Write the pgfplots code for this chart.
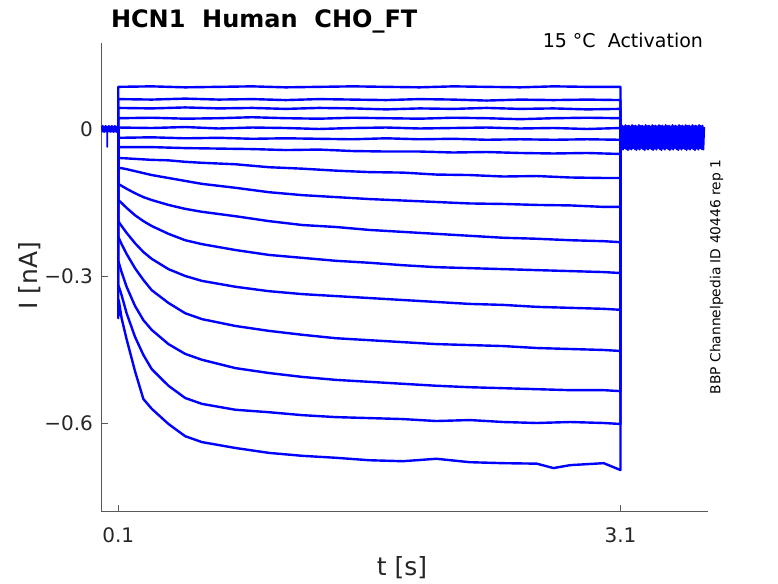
\documentclass[border=0pt]{standalone}
\usepackage{fontspec}
\setmainfont{DejaVu Sans}
\usepackage{pgfplots}
\pgfplotsset{compat=1.18}
\begin{document}
\begin{tikzpicture}
\path[use as bounding box] (-101.5pt,-72pt) rectangle (676.5pt,511pt);
\begin{axis}[
  at={(0pt,0pt)}, anchor=south west,
  scale only axis, width=606pt, height=468pt,
  xmin=0, xmax=3.62, ymin=-0.7796, ymax=0.1755,
  axis x line*=bottom, axis y line*=left,
  xtick={0.1,3.1}, xticklabels={0.1,3.1},
  ytick={-0.6,-0.3,0}, yticklabels={−0.6,−0.3,{0\hspace{22pt}}},
  tick align=inside, major tick length=6pt,
  tick style={black!65, line width=0.6pt},
  axis line style={black!65, line width=0.6pt},
  ticklabel style={font=\fontsize{20}{22}\selectfont, text=black!85},
  xticklabel style={yshift=-13pt},
  yticklabel style={xshift=-5pt},
  clip=false,
  tr/.style={color=blue, line width=2.4pt, line join=round, no markers},
]
% pre-pulse holding current
\addplot[tr, line width=1.2pt] coordinates {(0,0.006)(0.003,-0.006)(0.006,0.007)(0.009,-0.005)(0.012,0.006)(0.015,-0.007)(0.018,0.005)(0.021,-0.006)(0.024,0.007)(0.027,-0.005)(0.030,0.006)(0.032,-0.006)(0.033,-0.037)(0.036,-0.037)(0.037,0.005)(0.040,-0.006)(0.043,0.007)(0.046,-0.005)(0.049,0.006)(0.052,-0.007)(0.055,0.005)(0.058,-0.006)(0.061,0.007)(0.064,-0.005)(0.067,0.006)(0.070,-0.007)(0.073,0.005)(0.076,-0.006)(0.079,0.007)(0.082,-0.005)(0.085,0.006)(0.088,-0.007)(0.091,0.005)(0.094,-0.006)(0.097,0.007)(0.1,0)};
% traces
\addplot[tr] coordinates {(0.1,0)(0.1,0.086)(0.3,0.087)(0.5,0.085)(0.7,0.086)(0.9,0.087)(1.1,0.085)(1.3,0.086)(1.5,0.087)(1.7,0.086)(1.9,0.085)(2.1,0.087)(2.3,0.086)(2.5,0.085)(2.7,0.087)(2.9,0.086)(3.1,0.086)(3.1,-0.015)};
\addplot[tr] coordinates {(0.1,0)(0.1,0.061)(0.3,0.060)(0.5,0.062)(0.7,0.060)(0.9,0.061)(1.1,0.059)(1.3,0.061)(1.5,0.060)(1.7,0.059)(1.9,0.061)(2.1,0.060)(2.3,0.058)(2.5,0.060)(2.7,0.059)(2.9,0.060)(3.1,0.059)(3.1,-0.015)};
\addplot[tr] coordinates {(0.1,0)(0.1,0.043)(0.3,0.042)(0.5,0.044)(0.7,0.042)(0.9,0.043)(1.1,0.041)(1.3,0.043)(1.5,0.042)(1.7,0.040)(1.9,0.042)(2.1,0.041)(2.3,0.043)(2.5,0.041)(2.7,0.042)(2.9,0.040)(3.1,0.041)(3.1,-0.015)};
\addplot[tr] coordinates {(0.1,0)(0.1,0.022)(0.3,0.023)(0.5,0.021)(0.7,0.022)(0.9,0.024)(1.1,0.022)(1.3,0.021)(1.5,0.023)(1.7,0.022)(1.9,0.021)(2.1,0.023)(2.3,0.022)(2.5,0.020)(2.7,0.022)(2.9,0.023)(3.1,0.022)(3.1,-0.015)};
\addplot[tr] coordinates {(0.1,0)(0.1,0.003)(0.3,0.002)(0.5,0.004)(0.7,0.001)(0.9,0.003)(1.1,0.002)(1.3,0.000)(1.5,0.002)(1.7,0.003)(1.9,0.001)(2.1,0.002)(2.3,0.003)(2.5,0.001)(2.7,0.002)(2.9,0.000)(3.1,0.002)(3.1,-0.015)};
\addplot[tr] coordinates {(0.1,0)(0.1,-0.018)(0.3,-0.017)(0.5,-0.019)(0.7,-0.018)(0.9,-0.020)(1.1,-0.019)(1.3,-0.020)(1.5,-0.021)(1.7,-0.019)(1.9,-0.021)(2.1,-0.020)(2.3,-0.022)(2.5,-0.021)(2.7,-0.022)(2.9,-0.021)(3.1,-0.022)(3.1,-0.015)};
\addplot[tr] coordinates {(0.1,0)(0.1,-0.037)(0.3,-0.037)(0.5,-0.039)(0.7,-0.040)(0.9,-0.041)(1.1,-0.043)(1.3,-0.042)(1.5,-0.045)(1.7,-0.046)(1.9,-0.046)(2.1,-0.048)(2.3,-0.047)(2.5,-0.049)(2.7,-0.050)(2.9,-0.049)(3.1,-0.051)(3.1,-0.015)};
\addplot[tr] coordinates {(0.1,0)(0.1,-0.059)(0.2,-0.061)(0.3,-0.063)(0.4,-0.064)(0.5,-0.067)(0.6,-0.069)(0.8,-0.072)(1.0,-0.078)(1.2,-0.081)(1.4,-0.085)(1.6,-0.088)(1.8,-0.089)(2.0,-0.093)(2.2,-0.094)(2.4,-0.097)(2.6,-0.096)(2.8,-0.099)(3.0,-0.100)(3.1,-0.100)(3.1,-0.015)};
\addplot[tr] coordinates {(0.1,0)(0.1,-0.080)(0.12,-0.080)(0.15,-0.082)(0.2,-0.086)(0.25,-0.090)(0.3,-0.094)(0.4,-0.100)(0.5,-0.106)(0.6,-0.112)(0.8,-0.120)(1.0,-0.129)(1.2,-0.135)(1.4,-0.139)(1.6,-0.143)(1.8,-0.146)(2.0,-0.149)(2.2,-0.152)(2.4,-0.153)(2.6,-0.155)(2.8,-0.156)(3.0,-0.159)(3.1,-0.159)(3.1,-0.015)};
\addplot[tr] coordinates {(0.1,0)(0.1,-0.112)(0.12,-0.116)(0.15,-0.122)(0.2,-0.131)(0.25,-0.139)(0.3,-0.145)(0.4,-0.155)(0.5,-0.163)(0.6,-0.169)(0.8,-0.178)(1.0,-0.188)(1.2,-0.196)(1.4,-0.200)(1.6,-0.206)(1.8,-0.210)(2.0,-0.214)(2.2,-0.218)(2.4,-0.222)(2.6,-0.224)(2.8,-0.227)(3.0,-0.229)(3.1,-0.231)(3.1,-0.015)};
\addplot[tr] coordinates {(0.1,0)(0.1,-0.145)(0.12,-0.151)(0.15,-0.161)(0.2,-0.176)(0.25,-0.188)(0.3,-0.198)(0.4,-0.214)(0.5,-0.227)(0.6,-0.235)(0.8,-0.247)(1.0,-0.257)(1.2,-0.263)(1.4,-0.269)(1.6,-0.273)(1.8,-0.278)(2.0,-0.282)(2.2,-0.284)(2.4,-0.286)(2.6,-0.288)(2.8,-0.290)(3.0,-0.292)(3.1,-0.294)(3.1,-0.015)};
\addplot[tr] coordinates {(0.1,0)(0.1,-0.188)(0.12,-0.198)(0.15,-0.212)(0.2,-0.233)(0.25,-0.251)(0.3,-0.265)(0.4,-0.286)(0.5,-0.300)(0.6,-0.310)(0.8,-0.322)(1.0,-0.331)(1.2,-0.337)(1.4,-0.341)(1.6,-0.345)(1.8,-0.349)(2.0,-0.353)(2.2,-0.357)(2.4,-0.359)(2.6,-0.363)(2.8,-0.365)(3.0,-0.367)(3.1,-0.369)(3.1,-0.015)};
\addplot[tr] coordinates {(0.1,0)(0.1,-0.220)(0.12,-0.235)(0.15,-0.255)(0.2,-0.284)(0.25,-0.308)(0.3,-0.329)(0.4,-0.355)(0.5,-0.376)(0.6,-0.388)(0.8,-0.402)(1.0,-0.412)(1.2,-0.420)(1.4,-0.427)(1.6,-0.431)(1.8,-0.435)(2.0,-0.439)(2.2,-0.441)(2.4,-0.443)(2.6,-0.447)(2.8,-0.449)(3.0,-0.451)(3.1,-0.453)(3.1,-0.015)};
\addplot[tr] coordinates {(0.1,0)(0.1,-0.269)(0.12,-0.292)(0.15,-0.322)(0.2,-0.361)(0.25,-0.390)(0.3,-0.410)(0.4,-0.439)(0.5,-0.459)(0.6,-0.471)(0.8,-0.488)(1.0,-0.498)(1.2,-0.506)(1.4,-0.512)(1.6,-0.516)(1.8,-0.520)(2.0,-0.524)(2.2,-0.527)(2.4,-0.529)(2.6,-0.531)(2.8,-0.533)(3.0,-0.533)(3.1,-0.535)(3.1,-0.015)};
\addplot[tr] coordinates {(0.1,0)(0.1,-0.318)(0.12,-0.339)(0.15,-0.376)(0.2,-0.424)(0.25,-0.461)(0.3,-0.490)(0.4,-0.524)(0.5,-0.549)(0.6,-0.561)(0.8,-0.573)(1.0,-0.578)(1.2,-0.584)(1.4,-0.588)(1.6,-0.590)(1.8,-0.592)(2.0,-0.596)(2.2,-0.594)(2.4,-0.598)(2.6,-0.600)(2.8,-0.598)(3.0,-0.600)(3.1,-0.602)(3.1,-0.015)};
\addplot[tr] coordinates {(0.1,0)(0.1,-0.386)(0.103,-0.349)(0.12,-0.386)(0.15,-0.429)(0.2,-0.494)(0.25,-0.551)(0.3,-0.571)(0.4,-0.602)(0.5,-0.627)(0.6,-0.639)(0.8,-0.651)(1.0,-0.661)(1.2,-0.667)(1.4,-0.671)(1.6,-0.676)(1.8,-0.678)(2.0,-0.673)(2.2,-0.680)(2.4,-0.682)(2.6,-0.683)(2.7,-0.692)(2.8,-0.686)(3.0,-0.682)(3.1,-0.696)(3.1,-0.015)};
% tail currents
\addplot[tr, line width=2pt] coordinates {(3.100,0.006)(3.105,-0.040)(3.110,0.007)(3.115,-0.042)(3.120,0.005)(3.125,-0.039)(3.130,0.008)(3.135,-0.041)(3.140,0.006)(3.145,-0.043)(3.150,0.007)(3.155,-0.040)(3.160,0.005)(3.165,-0.042)(3.170,0.008)(3.175,-0.039)(3.180,0.006)(3.185,-0.041)(3.190,0.007)(3.195,-0.043)(3.200,0.005)(3.205,-0.040)(3.210,0.008)(3.215,-0.042)(3.220,0.006)(3.225,-0.039)(3.230,0.007)(3.235,-0.041)(3.240,0.005)(3.245,-0.043)(3.250,0.008)(3.255,-0.040)(3.260,0.006)(3.265,-0.042)(3.270,0.007)(3.275,-0.039)(3.280,0.005)(3.285,-0.041)(3.290,0.008)(3.295,-0.043)(3.300,0.006)(3.305,-0.040)(3.310,0.007)(3.315,-0.042)(3.320,0.005)(3.325,-0.039)(3.330,0.008)(3.335,-0.041)(3.340,0.006)(3.345,-0.043)(3.350,0.007)(3.355,-0.040)(3.360,0.005)(3.365,-0.042)(3.370,0.008)(3.375,-0.039)(3.380,0.006)(3.385,-0.041)(3.390,0.007)(3.395,-0.043)(3.400,0.005)(3.405,-0.040)(3.410,0.008)(3.415,-0.042)(3.420,0.006)(3.425,-0.039)(3.430,0.007)(3.435,-0.041)(3.440,0.005)(3.445,-0.043)(3.450,0.008)(3.455,-0.040)(3.460,0.006)(3.465,-0.042)(3.470,0.007)(3.475,-0.039)(3.480,0.005)(3.485,-0.041)(3.490,0.008)(3.495,-0.043)(3.500,0.006)(3.505,-0.040)(3.510,0.007)(3.515,-0.042)(3.520,0.005)(3.525,-0.039)(3.530,0.008)(3.535,-0.041)(3.540,0.006)(3.545,-0.043)(3.550,0.007)(3.555,-0.040)(3.560,0.005)(3.565,-0.042)(3.570,0.008)(3.575,-0.039)(3.580,0.006)(3.585,-0.041)(3.590,0.007)(3.595,-0.042)(3.600,0.004)};
\end{axis}
\node[anchor=base west, font=\fontsize{24}{28}\selectfont\bfseries, text=black] at (6pt,483pt) {HCN1\ \ Human\ \ CHO\_FT};
\node[anchor=base east, font=\fontsize{19}{22}\selectfont, text=black] at (605pt,463pt) {15 °C\ \ Activation};
\node[rotate=90, font=\fontsize{25}{28}\selectfont, text=black!85] at (-71.5pt,235pt) {I [nA]};
\node[font=\fontsize{25}{28}\selectfont, text=black!85] at (300.5pt,-57pt) {t [s]};
\node[rotate=90, font=\fontsize{13.8}{15}\selectfont, text=black] at (615pt,234pt) {BBP Channelpedia ID 40446 rep 1};
\end{tikzpicture}
\end{document}
